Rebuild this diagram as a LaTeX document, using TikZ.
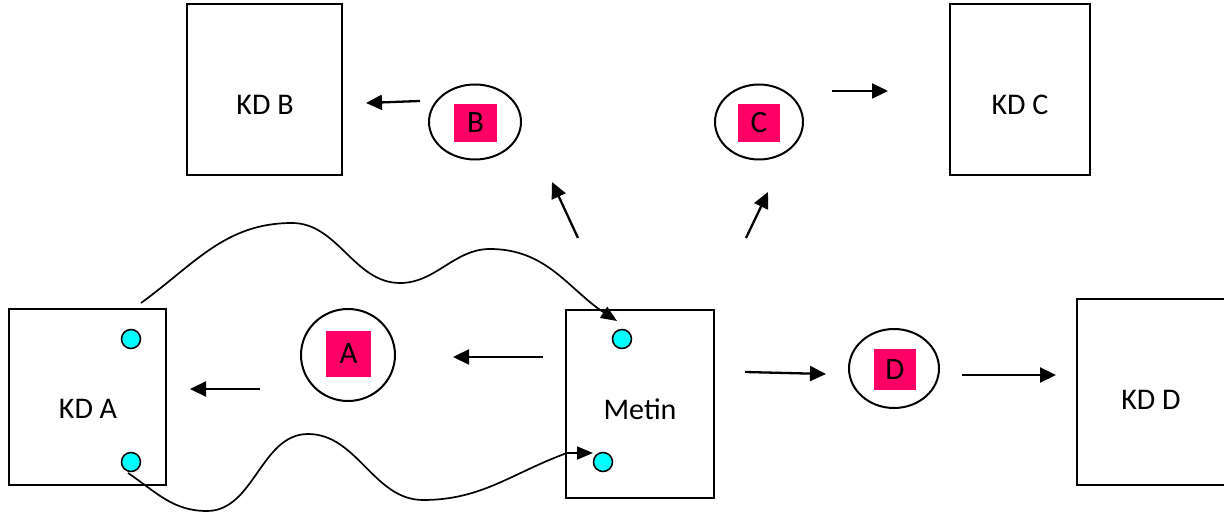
\documentclass[tikz,border=0pt]{standalone}
\usepackage{fontspec}
\setmainfont{Carlito}
\usetikzlibrary{arrows.meta,shapes.geometric}
\definecolor{tagpink}{RGB}{255,0,102}
\definecolor{portcyan}{RGB}{0,255,255}
\begin{document}
\begin{tikzpicture}[x=1pt,y=1pt,
  box/.style={draw, line width=2pt, inner sep=0pt},
  boxtext/.style={inner sep=0pt, font=\fontsize{30}{36}\selectfont},
  oval/.style={draw, ellipse, line width=2pt, inner sep=0pt},
  tag/.style={fill=tagpink, inner sep=0pt, font=\fontsize{31}{36}\selectfont},
  port/.style={draw, circle, fill=portcyan, line width=1.5pt, minimum size=19pt, inner sep=0pt},
  arr/.style={line width=2.3pt, -{Triangle[length=16pt,width=15pt]}},
  wave/.style={line width=1.7pt, -{Triangle[length=16pt,width=13pt]}}]
\useasboundingbox (0,0) rectangle (1224,-518);

% boxes
\node[box, minimum width=155, minimum height=171] (kdb) at (264.5,-89.5) {};
\node[box, minimum width=140, minimum height=171] (kdc) at (1020,-89.5) {};
\node[box, minimum width=157, minimum height=175] (kda) at (87.5,-397) {};
\node[box, minimum width=148, minimum height=188] (metin) at (640,-404) {};
\node[box, minimum width=148, minimum height=185] (kdd) at (1151,-392) {};

\node[boxtext] (tkdb) at (265,-105) {KD B};
\node[boxtext] (tkdc) at (1020,-105) {KD C};
\node[boxtext] (tkda) at (88,-409) {KD A};
\node[boxtext] (tmetin) at (640,-409) {Metin};
\node[boxtext] (tkdd) at (1151,-400) {KD D};

% ovals with tags
\node[oval, minimum width=92, minimum height=75] (ob) at (475,-122) {};
\node[oval, minimum width=88, minimum height=75] (oc) at (759,-122) {};
\node[oval, minimum width=94, minimum height=92] (oa) at (348,-355) {};
\node[oval, minimum width=90, minimum height=79] (od) at (894,-368.5) {};

\node[tag, minimum width=43, minimum height=38] (tb) at (475.5,-123) {B};
\node[tag, minimum width=42, minimum height=38] (tc) at (759,-123) {C};
\node[tag, minimum width=45, minimum height=46] (ta) at (348.5,-354) {A};
\node[tag, minimum width=42, minimum height=41] (td) at (895,-369.5) {D};

% ports
\node[port] (pa1) at (131,-339) {};
\node[port] (pa2) at (131,-462) {};
\node[port] (pm1) at (622,-339) {};
\node[port] (pm2) at (603,-462) {};

% straight arrow end points
\coordinate (a1s) at (260,-389);  \coordinate (a1e) at (190,-389);
\coordinate (a2s) at (543,-357);  \coordinate (a2e) at (453,-357);
\coordinate (a3s) at (420,-101);  \coordinate (a3e) at (366,-103);
\coordinate (a4s) at (578,-238);  \coordinate (a4e) at (552,-182);
\coordinate (a5s) at (746,-238);  \coordinate (a5e) at (768,-192);
\coordinate (a6s) at (832,-91);   \coordinate (a6e) at (888,-91);
\coordinate (a7s) at (745,-372);  \coordinate (a7e) at (826,-374);
\coordinate (a8s) at (962,-375);  \coordinate (a8e) at (1056,-375);

\foreach \k in {1,...,8} \draw[arr] (a\k s) -- (a\k e);

% wavy links between the ports
\coordinate (w1s) at (141,-303);
\coordinate (w1a) at (292,-223);
\coordinate (w1b) at (400,-283);
\coordinate (w1c) at (490,-249);
\coordinate (w1e) at (617,-321);
\draw[wave] (w1s) to[out=36,in=180] (w1a) to[out=0,in=180,looseness=0.95] (w1b)
  to[out=0,in=180,looseness=0.95] (w1c) to[out=0,in=147] (w1e);

\coordinate (w2s) at (128,-473);
\coordinate (w2a) at (207,-511);
\coordinate (w2b) at (308,-434);
\coordinate (w2c) at (423,-500);
\coordinate (w2d) at (567,-453);
\coordinate (w2e) at (593,-453);
\draw[wave] (w2s) to[out=-34,in=180] (w2a) to[out=0,in=180,looseness=0.95] (w2b)
  to[out=0,in=180,looseness=0.95] (w2c) to[out=0,in=200] (w2d) -- (w2e);
\end{tikzpicture}
\end{document}
